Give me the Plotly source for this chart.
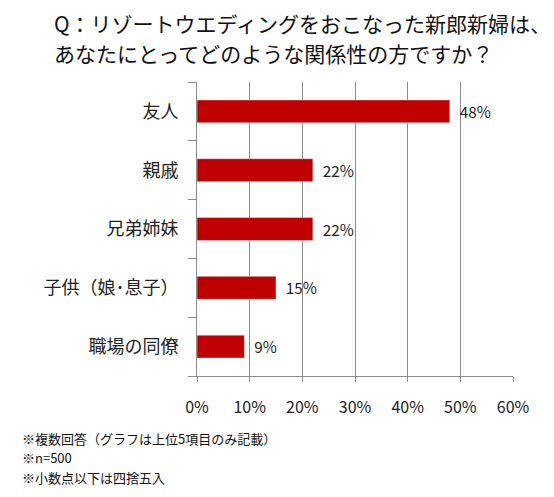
import plotly.graph_objects as go

categories = ["友人", "親戚", "兄弟姉妹", "子供（娘･息子）", "職場の同僚"]
values = [48, 22, 22, 15, 9]
labels = ["48%", "22%", "22%", "15%", "9%"]
tick_vals = [0, 10, 20, 30, 40, 50, 60]
tick_text = ["0%", "10%", "20%", "30%", "40%", "50%", "60%"]

title_lines = ["Q：リゾートウエディングをおこなった新郎新婦は、",
               "あなたにとってどのような関係性の方ですか？"]
notes = ["※複数回答（グラフは上位5項目のみ記載）", "※n=500", "※小数点以下は四捨五入"]

W, H = 554, 497
OFF = 8  # page body margin
font = "Noto Sans CJK JP"


def px(x):
    return (x - OFF) / W


def py(y):
    return 1 - (y - OFF) / H


fig = go.Figure()
fig.add_trace(go.Bar(
    x=values,
    y=categories,
    orientation="h",
    text=labels,
    texttemplate="  %{text}",
    textposition="outside",
    textfont=dict(size=16, color="#222222"),
    marker_color="#C00000",
    cliponaxis=False,
))

fig.update_layout(
    width=W, height=H,
    margin=dict(l=0, r=0, t=0, b=0),
    plot_bgcolor="white",
    paper_bgcolor="white",
    font=dict(family=font, color="#222222"),
    showlegend=False,
    bargap=0.61,
    xaxis=dict(
        domain=[px(197), px(513)],
        range=[0, 60],
        automargin=False,
        tickvals=tick_vals,
        ticktext=tick_text,
        tickfont=dict(size=16),
        showgrid=True,
        gridcolor="#8c8c8c",
        gridwidth=1,
        showline=True,
        linecolor="#8c8c8c",
        ticks="outside",
        ticklen=5,
        tickcolor="#8c8c8c",
        ticklabelstandoff=12,
        zeroline=False,
        fixedrange=True,
    ),
    yaxis=dict(
        domain=[py(376), py(82)],
        automargin=False,
        categoryorder="array",
        categoryarray=categories[::-1],
        tickfont=dict(size=18),
        showline=True,
        linecolor="#8c8c8c",
        ticks="outside",
        tickson="boundaries",
        ticklen=8,
        tickcolor="#8c8c8c",
        ticklabelstandoff=14,
        fixedrange=True,
    ),
)

for i, line in enumerate(title_lines):
    fig.add_annotation(
        text=line, xref="paper", yref="paper",
        x=px(52), y=py(23 + 30 * i),
        xanchor="left", yanchor="middle", showarrow=False,
        font=dict(size=21, family=font, color="#111111"),
    )

for i, line in enumerate(notes):
    fig.add_annotation(
        text=line, xref="paper", yref="paper",
        x=px(20), y=py(438 + 19.5 * i),
        xanchor="left", yanchor="middle", showarrow=False,
        font=dict(size=13, family=font, color="#111111"),
    )

fig.write_html("out.html")
